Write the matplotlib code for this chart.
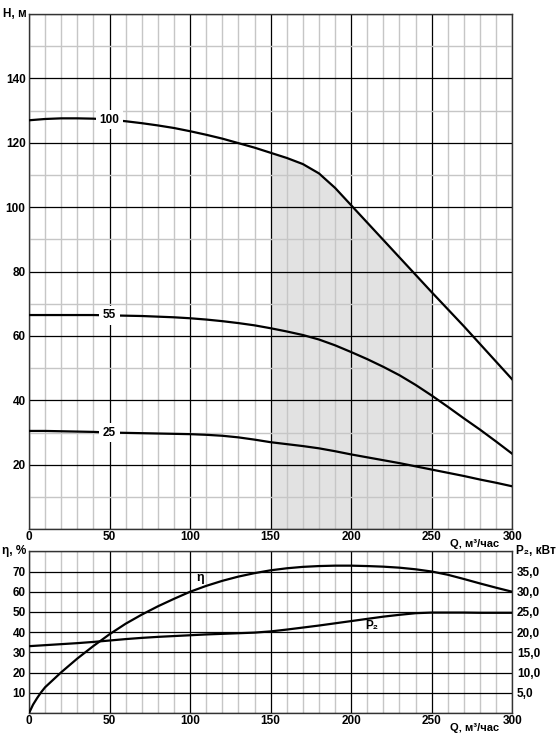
import matplotlib
matplotlib.use("Agg")
import matplotlib.pyplot as plt
from matplotlib.ticker import MultipleLocator

plt.rcParams["font.family"] = ["Liberation Sans", "DejaVu Sans"]
plt.rcParams["font.weight"] = "bold"
plt.rcParams["font.size"] = 8

# Напорные характеристики (Q, м³/час -> H, м)
q = [0, 10, 20, 30, 40, 50, 60, 70, 80, 90, 100, 110, 120, 130, 140, 150,
     160, 170, 180, 190, 200, 210, 220, 230, 240, 250, 260, 270, 280, 290, 300]
h_100 = [127.0, 127.4, 127.6, 127.6, 127.5, 127.2, 126.7, 126.1, 125.4, 124.6,
         123.6, 122.5, 121.3, 119.9, 118.5, 116.9, 115.3, 113.4, 110.5, 106.0,
         100.6, 95.2, 89.8, 84.4, 79.0, 73.6, 68.3, 63.0, 57.5, 52.0, 46.5]
h_55 = [66.5, 66.5, 66.5, 66.5, 66.5, 66.4, 66.3, 66.2, 66.0, 65.8,
        65.5, 65.1, 64.6, 64.0, 63.3, 62.4, 61.4, 60.3, 58.9, 57.1,
        55.0, 52.8, 50.4, 47.8, 44.8, 41.5, 38.0, 34.4, 30.9, 27.2, 23.4]
h_25 = [30.5, 30.5, 30.4, 30.3, 30.2, 30.0, 29.9, 29.8, 29.7, 29.6,
        29.5, 29.3, 29.0, 28.5, 27.8, 27.0, 26.4, 25.8, 25.1, 24.2,
        23.2, 22.3, 21.4, 20.5, 19.5, 18.5, 17.5, 16.5, 15.4, 14.4, 13.3]
curve_labels = ["100", "55", "25"]

# КПД (отдельная сетка Q — у нуля кривая крутая)
q_eta = [0, 2.5, 5, 7.5, 10, 20, 30, 40, 50, 60, 70, 80, 90, 100, 110, 120,
         130, 140, 150, 160, 170, 180, 190, 200, 210, 220, 230, 240, 250, 260,
         270, 280, 290, 300]
eta = [0, 4.2, 7.4, 10.3, 12.8, 20.2, 27.0, 33.2, 39.0, 44.2, 48.7, 52.8,
       56.5, 60.0, 62.9, 65.4, 67.5, 69.2, 70.6, 71.6, 72.3, 72.7, 72.9,
       72.9, 72.7, 72.4, 71.9, 71.1, 70.0, 68.4, 66.3, 64.1, 62.0, 60.0]
# Мощность P₂, кВт
p2 = [16.55, 16.8, 17.05, 17.3, 17.6, 17.95, 18.3, 18.6, 18.85, 19.05,
      19.25, 19.45, 19.6, 19.75, 19.9, 20.2, 20.65, 21.15, 21.65, 22.2,
      22.75, 23.3, 23.85, 24.3, 24.7, 24.85, 24.85, 24.85, 24.8, 24.8, 24.8]

work_zone = (150, 250)

fig = plt.figure(figsize=(5.58, 7.39), dpi=100)
ax1 = fig.add_axes([0.052, 0.284, 0.866, 0.697])
ax2 = fig.add_axes([0.052, 0.035, 0.866, 0.219])


def style_grid(ax):
    ax.set_axisbelow(True)
    ax.grid(which="major", color="black", linewidth=0.9)
    ax.grid(which="minor", color="#c6c6c6", linewidth=1.0)
    ax.tick_params(which="both", length=0, labelsize=8.5)
    ax.tick_params(axis="x", pad=1)
    ax.tick_params(axis="y", pad=2.5)
    for s in ax.spines.values():
        s.set_linewidth(1.0)
        s.set_color("#333333")
    for t in ax.get_xticklabels() + ax.get_yticklabels():
        t.set_fontweight("bold")


# верхний график
ax1.set_xlim(0, 300)
ax1.set_ylim(0, 160)
ax1.xaxis.set_major_locator(MultipleLocator(50))
ax1.xaxis.set_minor_locator(MultipleLocator(10))
ax1.yaxis.set_minor_locator(MultipleLocator(10))
ax1.set_yticks(range(0, 161, 20))
ax1.set_yticklabels([""] + [str(v) for v in range(20, 141, 20)] + [""])
style_grid(ax1)

zq = [v for v in q if work_zone[0] <= v <= work_zone[1]]
zh = [h for v, h in zip(q, h_100) if work_zone[0] <= v <= work_zone[1]]
ax1.fill_between(zq, 0, zh, color="#e2e2e2", linewidth=0, zorder=0.1)

for hh, lab in zip([h_100, h_55, h_25], curve_labels):
    ax1.plot(q, hh, color="black", linewidth=1.6, zorder=3)
    ax1.text(50, hh[5], lab, ha="center", va="center", fontsize=8.5, zorder=4,
             fontweight="bold",
             bbox=dict(boxstyle="square,pad=0.3", fc="white", ec="none"))

ax1.text(-0.005, 1.0, "H, м", transform=ax1.transAxes, ha="right", va="center",
         fontsize=8.5, fontweight="bold")
ax1.annotate("Q, м³/час", xy=(0.922, 0), xycoords="axes fraction", xytext=(0, -10.5),
             textcoords="offset points", ha="center", va="center", fontsize=8,
             fontweight="bold")

# нижний график
ax2.set_xlim(0, 300)
ax2.set_ylim(0, 80)
ax2.xaxis.set_major_locator(MultipleLocator(50))
ax2.xaxis.set_minor_locator(MultipleLocator(10))
ax2.set_yticks(range(0, 81, 10))
ax2.set_yticklabels([""] + [str(v) for v in range(10, 71, 10)] + [""])
style_grid(ax2)
ax2.plot(q_eta, eta, color="black", linewidth=1.6, zorder=3)
ax2.text(106, 67, "η", ha="center", va="center", fontsize=9, fontweight="bold")

ax3 = ax2.twinx()
ax3.set_ylim(0, 40)
ax3.set_yticks(range(0, 41, 5))
ax3.set_yticklabels([""] + [f"{v},0" for v in range(5, 36, 5)] + [""])
ax3.tick_params(length=0, pad=3.5, labelsize=8.5)
for t in ax3.get_yticklabels():
    t.set_fontweight("bold")
for s in ax3.spines.values():
    s.set_visible(False)
ax3.plot(q, p2, color="black", linewidth=1.6, zorder=3)
ax3.text(213, 21.5, "P₂", ha="center", va="center", fontsize=8.5, fontweight="bold")

ax2.text(-0.005, 1.0, "η, %", transform=ax2.transAxes, ha="right", va="center",
         fontsize=8.5, fontweight="bold")
ax2.text(1.008, 1.0, "P₂, кВт", transform=ax2.transAxes, ha="left", va="center",
         fontsize=8.5, fontweight="bold")
ax2.annotate("Q, м³/час", xy=(0.922, 0), xycoords="axes fraction", xytext=(0, -10.5),
             textcoords="offset points", ha="center", va="center", fontsize=8,
             fontweight="bold")

fig.savefig("out.png", dpi=100)
